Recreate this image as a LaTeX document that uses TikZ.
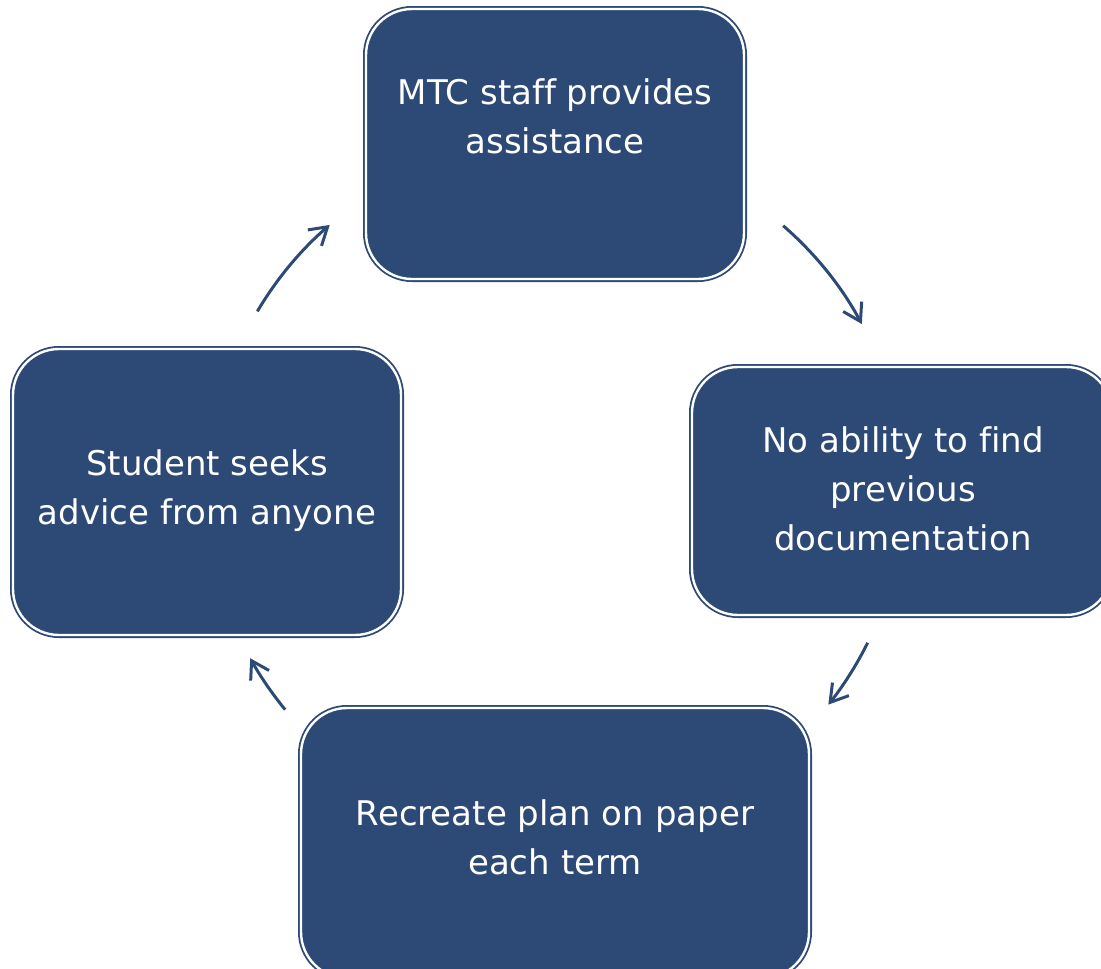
\documentclass[tikz,border=0pt]{standalone}
\usepackage{fontspec}
\setmainfont{DejaVu Sans}[Ligatures={NoCommon}]
\usetikzlibrary{arrows.meta}
\definecolor{navy}{RGB}{44,74,117}
\tikzset{
  box/.style={draw=navy, line width=1.8pt, double=white, double distance=2.4pt,
    fill=navy, rounded corners=46pt, inner sep=0pt},
  lbl/.style={text=white, align=center, font=\fontsize{34}{49}\selectfont, inner sep=0pt},
  arr/.style={draw=navy, line width=3pt, -{Straight Barb[length=17pt,width=21pt,line width=3pt]}}
}
\begin{document}
\begin{tikzpicture}[x=1pt,y=1pt]
\useasboundingbox (0,0) rectangle (1101,-969);
\clip (0,0) rectangle (1101,-969);
% boxes
\node[box, minimum width=378pt, minimum height=270pt] (top) at (555,-144) {};
\node[box, minimum width=420pt, minimum height=248pt] (right) at (902,-491) {};
\node[box, minimum width=508pt, minimum height=270pt] (bottom) at (555,-843) {};
\node[box, minimum width=388pt, minimum height=286pt] (left) at (207,-492) {};
% texts
\node[lbl] (ttop) at (555,-116) {MTC staff provides\\assistance};
\node[lbl] (tright) at (903,-489) {No ability to find\\previous\\documentation};
\node[lbl] (tbottom) at (555,-837) {Recreate plan on paper\\each term};
\node[lbl] (tleft) at (207,-491) {Student seeks\\advice from anyone};
% cycle arrows
\coordinate (c) at (556,-488);
\coordinate (a1) at ([shift={(149.4:347)}]c);
\coordinate (a2) at ([shift={(49.1:347)}]c);
\coordinate (a3) at ([shift={(-26.4:348)}]c);
\coordinate (a4) at ([shift={(219.3:350)}]c);
\draw[arr] (a1) arc[start angle=149.4, end angle=130.7, radius=347];
\draw[arr] (a2) arc[start angle=49.1, end angle=28.2, radius=347];
\draw[arr] (a3) arc[start angle=-26.4, end angle=-38.5, radius=348];
\draw[arr] (a4) arc[start angle=219.3, end angle=209.1, radius=350];
\end{tikzpicture}
\end{document}
